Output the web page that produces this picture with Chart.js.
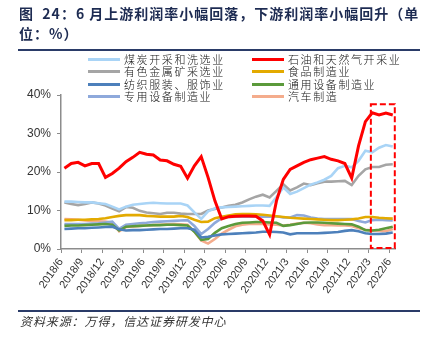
<!DOCTYPE html>
<html>
<head>
<meta charset="utf-8">
<script src="https://cdn.jsdelivr.net/npm/chart.js@4.4.0/dist/chart.umd.min.js"></script>
<style>
body { margin: 0; background: #fff; }
#wrap { position: relative; width: 429px; height: 338px; overflow: hidden; font-family: "Noto Sans CJK SC", sans-serif; }
#chart { position: absolute; left: 0; top: 0; }
.title { position: absolute; left: 19px; font-size: 14px; font-weight: bold; color: #1d2b52; letter-spacing: 1px; white-space: nowrap; line-height: 16px; }
.rule { position: absolute; left: 18px; width: 402px; height: 2px; background: #2a3b68; }
.item { position: absolute; font-size: 11px; font-weight: 300; letter-spacing: 1.6px; color: #111; white-space: nowrap; line-height: 12px; }
.item i { position: absolute; left: -36px; top: 5px; width: 32px; height: 3px; }
.source { position: absolute; left: 20px; top: 312px; font-size: 12px; font-style: italic; letter-spacing: 0.9px; color: #333; white-space: nowrap; }
</style>
</head>
<body>
<div id="wrap">
  <canvas id="chart" width="429" height="338"></canvas>
  <div class="title" style="top:5px">图&nbsp;&nbsp;24：6 月上游利润率小幅回落，下游利润率小幅回升（单</div>
  <div class="title" style="top:25px">位：%）</div>
  <div class="rule" style="top:49px"></div>
  <div id="legend"></div>
  <div class="rule" style="top:310px"></div>
  <div class="source">资料来源：万得，信达证券研发中心</div>
</div>
<script>
// months 2018/6 .. 2022/6
const months = [
  '2018/6','2018/7','2018/8','2018/9','2018/10','2018/11','2018/12',
  '2019/1','2019/2','2019/3','2019/4','2019/5','2019/6','2019/7','2019/8','2019/9','2019/10','2019/11','2019/12',
  '2020/1','2020/2','2020/3','2020/4','2020/5','2020/6','2020/7','2020/8','2020/9','2020/10','2020/11','2020/12',
  '2021/1','2021/2','2021/3','2021/4','2021/5','2021/6','2021/7','2021/8','2021/9','2021/10','2021/11','2021/12',
  '2022/1','2022/2','2022/3','2022/4','2022/5','2022/6'
]
const tickLabels = ['2018/6','2018/9','2018/12','2019/3','2019/6','2019/9','2019/12','2020/3','2020/6',
  '2020/9','2020/12','2021/3','2021/6','2021/9','2021/12','2022/3','2022/6']
const yTicks = [0, 10, 20, 30, 40]

const names = ['煤炭开采和洗选业','石油和天然气开采业','有色金属矿采选业','食品制造业',
  '纺织服装、服饰业','通用设备制造业','专用设备制造业','汽车制造']

const coal = [12.3,12.3,12.2,12.1,12.1,11.9,11.7,11.0,10.3,11.0,11.5,11.7,11.9,12.0,11.9,11.8,11.8,11.8,11.3,9.5,
  7.8,9.8,10.6,10.8,10.9,11.0,11.1,11.2,11.3,11.3,11.2,13.5,16.0,14.3,14.9,15.8,16.7,17.3,18.0,19.0,
  21.0,21.6,21.2,22.9,25.5,25.1,26.3,27.0,26.6]
const oil = [21.0,22.2,22.5,21.6,22.2,22.2,18.6,19.6,21.0,22.7,23.8,25.1,24.6,24.4,23.1,22.9,22.0,21.5,18.4,21.6,
  24.0,18.6,12.5,7.8,8.4,8.5,8.6,8.6,8.5,7.3,3.7,12.5,18.1,20.7,21.6,22.5,23.2,23.6,24.0,23.3,
  22.9,22.2,18.4,26.8,33.1,35.4,34.8,35.3,34.8]
const metal = [12.1,11.7,11.4,11.7,12.1,11.8,11.3,10.5,9.8,10.9,10.7,9.9,9.5,9.3,9.1,9.4,9.4,9.2,9.1,9.1,
  9.1,10.0,10.4,10.8,11.2,11.5,12.1,12.9,13.6,14.1,13.4,15.1,16.8,15.2,16.0,17.0,16.6,17.1,17.5,17.5,
  17.6,17.7,16.6,19.0,20.7,21.3,21.3,21.9,22.0]
const food = [7.5,7.5,7.6,7.6,7.7,7.8,8.0,8.3,8.6,8.8,8.8,8.8,8.6,8.5,8.4,8.4,8.4,8.6,8.3,7.6,
  7.0,7.1,8.0,8.4,8.7,9.0,9.1,9.1,9.0,8.9,8.7,8.5,8.3,8.1,8.0,7.9,7.8,7.7,7.6,7.5,
  7.5,7.6,7.7,7.9,8.3,8.3,8.1,8.0,7.9]
const textile = [5.2,5.3,5.4,5.4,5.5,5.6,5.7,5.8,5.1,4.8,4.9,4.9,5.0,5.1,5.2,5.2,5.3,5.4,5.4,5.0,
  3.0,3.2,3.5,3.8,3.9,4.0,4.1,4.2,4.3,4.5,4.5,4.4,4.3,3.8,4.1,4.1,4.1,4.1,4.2,4.3,
  4.4,4.7,4.9,4.6,4.1,3.9,3.9,4.0,4.3]
const general = [6.0,6.1,6.1,6.2,6.3,6.4,6.5,6.3,4.8,5.8,5.9,6.0,6.1,6.2,6.2,6.3,6.3,6.2,6.1,4.5,
  2.4,2.6,4.2,5.4,6.0,6.5,6.8,6.9,7.0,7.0,6.9,6.8,6.0,6.2,6.5,6.8,6.9,6.9,6.8,6.7,
  6.6,6.5,6.4,5.8,4.9,4.8,5.0,5.4,5.8]
const special = [6.5,6.5,6.5,6.5,6.6,6.7,6.9,7.1,5.2,6.3,6.5,6.7,6.8,7.0,7.1,7.2,7.3,7.4,7.5,6.0,
  3.9,5.2,6.8,8.0,8.3,8.4,8.4,8.4,8.4,8.4,8.4,8.5,8.2,8.2,8.8,8.7,8.2,7.9,7.8,7.8,
  7.8,7.8,7.8,7.3,6.9,7.5,7.6,7.5,7.4]
const auto = [7.8,7.7,7.6,7.4,7.3,7.2,7.1,6.8,4.6,5.7,5.8,6.0,6.1,6.2,6.3,6.4,6.5,6.4,6.3,4.5,
  2.2,1.4,2.6,4.0,5.0,5.9,6.3,6.5,6.5,6.5,6.4,6.3,6.1,6.3,6.6,6.8,6.7,6.4,6.2,6.2,
  6.1,6.1,6.0,5.4,5.0,4.8,4.7,4.6,5.2]

const series = [coal, oil, metal, food, textile, general, special, auto]
const colors = ['#a9d4f6','#ff0000','#a5a5a5','#e3aa00','#4d80bb','#5b9a3b','#8ea9db','#f4ac8c']
const highlightFrom = '2022/3', highlightTo = '2022/6'

// legend, two columns
const legend = document.getElementById('legend')
names.forEach(function (n, i) {
    let d = document.createElement('div')
    d.className = 'item'
    d.style.left = (i % 2 === 0 ? 124 : 288) + 'px'
    d.style.top = (53 + Math.floor(i / 2) * 12.4) + 'px'
    d.innerHTML = '<i style="background:' + colors[i] + '"></i>' + n
    legend.appendChild(d)
})

const boxPlugin = {
    id: 'box',
    afterDatasetsDraw(chart) {
        let ctx = chart.ctx, x = chart.scales.x, y = chart.scales.y
        let x0 = x.getPixelForValue(months.indexOf(highlightFrom) + 0.3)
        let x1 = x.getPixelForValue(months.indexOf(highlightTo) + 0.8)
        let y0 = y.getPixelForValue(37.6), y1 = y.getPixelForValue(0) - 1
        ctx.save()
        ctx.strokeStyle = '#ff0000'
        ctx.lineWidth = 2
        ctx.setLineDash([6, 3])
        ctx.strokeRect(x0, y0, x1 - x0, y1 - y0)
        ctx.restore()
    }
}

const datasets = series.map(function (s, i) {
    return {
        label: names[i],
        data: s.map((v, k) => ({ x: k + 0.5, y: v })),
        borderColor: colors[i],
        borderWidth: i === 1 ? 3 : 2.6,
        pointRadius: 0,
        tension: 0,
        order: i === 1 ? 0 : i + 1
    }
})

const axisColor = '#8c8c8c'
new Chart(document.getElementById('chart'), {
    type: 'line',
    data: { datasets: datasets },
    plugins: [boxPlugin],
    options: {
        responsive: false,
        animation: false,
        layout: { padding: { left: 0, top: 95, right: 34, bottom: 39 } },
        plugins: { legend: { display: false }, tooltip: { enabled: false } },
        scales: {
            x: {
                type: 'linear',
                min: 0,
                max: 48.83,
                afterBuildTicks: s => { s.ticks = tickLabels.map(l => ({ value: months.indexOf(l) })) },
                afterFit: s => { s.height = 50 },
                border: { display: true, color: axisColor, width: 1.5 },
                grid: { drawOnChartArea: false, tickLength: 4, tickColor: axisColor },
                ticks: {
                    autoSkip: false, minRotation: 55, maxRotation: 55, padding: 3,
                    color: '#333', font: { family: 'Liberation Sans', size: 11 },
                    callback: v => months[v]
                }
            },
            y: {
                min: 0,
                max: 40,
                afterBuildTicks: s => { s.ticks = yTicks.map(v => ({ value: v })) },
                afterFit: s => { s.width = 61 },
                border: { display: true, color: axisColor, width: 1.5 },
                grid: { drawOnChartArea: false, tickLength: 4, tickColor: axisColor },
                ticks: {
                    padding: 6, color: '#333', font: { family: 'Liberation Sans', size: 12 },
                    callback: v => v + '%'
                }
            }
        }
    }
})
</script>
</body>
</html>
